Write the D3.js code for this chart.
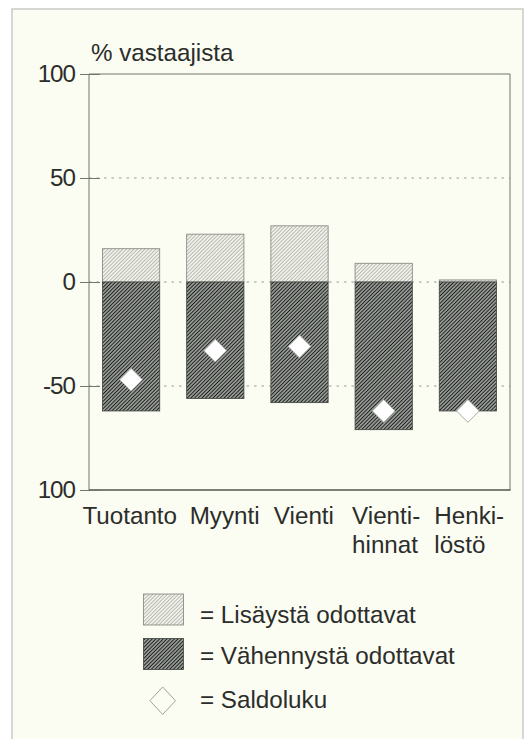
<!DOCTYPE html>
<html>
<head>
<meta charset="utf-8">
<script src="https://cdn.jsdelivr.net/npm/d3@7"></script>
<style>
  body { margin: 0; background: #ffffff; }
  svg text { font-family: "Liberation Sans", Arial, Helvetica, sans-serif; fill: #2b2d2b; }
</style>
</head>
<body>
<svg id="chart" width="532" height="739"></svg>
<script>
// data
var categories = ["Tuotanto", "Myynti", "Vienti", "Vientihinnat", "Henkilöstö"],
    catLines = [["Tuotanto"], ["Myynti"], ["Vienti"], ["Vienti-", "hinnat"], ["Henki-", "löstö"]],
    increase = [16, 23, 27, 9, 1],      // Lisäystä odottavat
    decrease = [-62, -56, -58, -71, -62], // Vähennystä odottavat
    saldo = [-47, -33, -31, -62, -62],
    yTicks = [100, 50, 0, -50, -100],
    yTickLabels = ["100", "50", "0", "-50", "100"],
    gridTicks = [50, 0, -50],
    legendLabels = ["= Lisäystä odottavat", "= Vähennystä odottavat", "= Saldoluku"];

var svg = d3.select("#chart"),
    pLeft = 89, pRight = 510, pTop = 74, pBottom = 490,
    axisCol = "#6f776f",
    fs = 24.2;

// outer frame
svg.append("rect").attr("x", 12).attr("y", 9).attr("width", 511).attr("height", 740)
    .attr("fill", "#fbfcf2").attr("stroke", "#c9cbc6").attr("stroke-width", 1.5);

var defs = svg.append("defs");
function hatch(id, bg, fg, sw) {
    var p = defs.append("pattern").attr("id", id)
        .attr("patternUnits", "userSpaceOnUse")
        .attr("width", 2.6).attr("height", 2.6)
        .attr("patternTransform", "rotate(45)");
    p.append("rect").attr("width", 2.6).attr("height", 2.6).attr("fill", bg);
    p.append("line").attr("x1", 0).attr("y1", 0).attr("x2", 0).attr("y2", 2.6)
        .attr("stroke", fg).attr("stroke-width", sw);
}
hatch("hLight", "#f0f1e8", "#868b85", 1.0);
hatch("hDark", "#959994", "#1a1c1a", 1.75);

var x = d3.scaleBand().domain(categories).range([pLeft, pRight])
    .paddingInner(0.32).paddingOuter(0.16);
var y = d3.scaleLinear().domain([-100, 100]).range([pBottom, pTop]);

// grid
svg.append("g").selectAll("line").data(gridTicks).enter().append("line")
    .attr("x1", pLeft).attr("x2", pRight)
    .attr("y1", function (d) { return y(d); }).attr("y2", function (d) { return y(d); })
    .attr("stroke", "#8d938c").attr("stroke-width", 0.9).attr("stroke-dasharray", "2.5,5");

// plot frame
svg.append("path")
    .attr("d", "M" + pLeft + "," + pBottom + "V" + pTop + "H" + pRight + "V" + pBottom)
    .attr("fill", "none").attr("stroke", axisCol).attr("stroke-width", 1);
svg.append("line").attr("x1", pLeft).attr("x2", pRight + 0.5).attr("y1", pBottom).attr("y2", pBottom)
    .attr("stroke", "#4f574f").attr("stroke-width", 1.6);

// y axis
var yAxis = d3.axisLeft(y).tickValues(yTicks).tickSizeInner(10).tickSizeOuter(0).tickPadding(4)
    .tickFormat(function (d, i) { return yTickLabels[i]; });
var ga = svg.append("g").attr("transform", "translate(" + pLeft + ",0)").call(yAxis);
ga.select(".domain").remove();
ga.selectAll(".tick line").attr("stroke", axisCol).attr("x2", 11).attr("x1", -9);
ga.selectAll(".tick text").attr("font-size", fs).attr("letter-spacing", -1)
    .attr("fill", "#2b2d2b").attr("font-family", "Liberation Sans, Arial, sans-serif");

// bars
var bars = svg.append("g");
bars.selectAll(".inc").data(categories).enter().append("rect").attr("class", "inc")
    .attr("x", function (d) { return x(d); })
    .attr("width", x.bandwidth())
    .attr("y", function (d, i) { return y(increase[i]); })
    .attr("height", function (d, i) { return y(0) - y(increase[i]); })
    .attr("fill", "url(#hLight)").attr("stroke", "#7d837c").attr("stroke-width", 0.8);
bars.selectAll(".dec").data(categories).enter().append("rect").attr("class", "dec")
    .attr("x", function (d) { return x(d); })
    .attr("width", x.bandwidth())
    .attr("y", y(0))
    .attr("height", function (d, i) { return y(decrease[i]) - y(0); })
    .attr("fill", "url(#hDark)").attr("stroke", "#3c423d").attr("stroke-width", 0.8);

// saldo diamonds
var dia = d3.symbol().type(d3.symbolSquare).size(260);
svg.append("g").selectAll("path").data(categories).enter().append("path")
    .attr("d", dia)
    .attr("transform", function (d, i) {
        return "translate(" + (x(d) + x.bandwidth() / 2) + "," + y(saldo[i]) + ") rotate(45)";
    })
    .attr("fill", "#ffffff").attr("stroke", "#a3a8a2").attr("stroke-width", 0.9);

// title
svg.append("text").attr("x", 91).attr("y", 61).attr("font-size", fs).text("% vastaajista");

// category labels
var labelNudge = [-20, 3, 3, -3, -5];
var gl = svg.append("g");
categories.forEach(function (c, i) {
    var t = gl.append("text").attr("font-size", fs)
        .attr("x", x(c) + labelNudge[i]).attr("y", 524);
    catLines[i].forEach(function (ln, j) {
        t.append("tspan").attr("x", x(c) + labelNudge[i]).attr("dy", j ? 28.5 : 0).text(ln);
    });
});

// legend
var lg = svg.append("g");
lg.append("rect").attr("x", 143.5).attr("y", 594).attr("width", 40).attr("height", 31)
    .attr("fill", "url(#hLight)").attr("stroke", "#7d837c").attr("stroke-width", 0.8);
lg.append("rect").attr("x", 143.5).attr("y", 638.5).attr("width", 40).attr("height", 31)
    .attr("fill", "url(#hDark)").attr("stroke", "#3c423d").attr("stroke-width", 0.8);
lg.append("path").attr("d", "M162.7,687 L175.5,700.7 L162.7,714.4 L149.9,700.7 Z")
    .attr("fill", "none").attr("stroke", "#9ea39d").attr("stroke-width", 1);
lg.selectAll("text").data(legendLabels).enter().append("text")
    .attr("x", 200).attr("y", function (d, i) { return [622.5, 663.5, 708.3][i]; })
    .attr("font-size", fs).text(function (d) { return d; });
</script>
</body>
</html>
